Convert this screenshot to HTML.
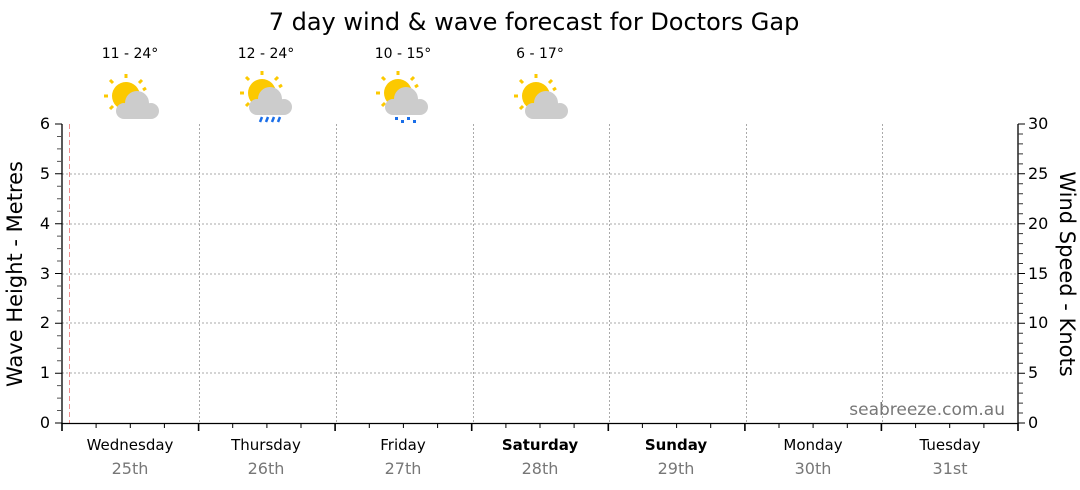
<!DOCTYPE html><html><head><style>body{margin:0;background:#fff}svg{display:block;font-family:"DejaVu Sans","Liberation Sans",sans-serif}</style></head><body>
<svg width="1080" height="490" xmlns="http://www.w3.org/2000/svg">
<text x="534" y="30" font-size="24" text-anchor="middle">7 day wind &amp; wave forecast for Doctors Gap</text>
<g font-size="14" text-anchor="middle">
<text x="130" y="58">11 - 24°</text><text x="266" y="58">12 - 24°</text><text x="403" y="58">10 - 15°</text><text x="540" y="58">6 - 17°</text></g>
<defs>
<g id="sun"><circle cx="0" cy="0" r="14" fill="#fcc900"/><g stroke="#fcc900" stroke-width="3"><line x1="0" y1="-22" x2="0" y2="-18"/><line x1="-16" y1="-16" x2="-13" y2="-13"/><line x1="16" y1="-16" x2="13" y2="-13"/><line x1="-22" y1="0" x2="-18" y2="0"/><line x1="-16" y1="13" x2="-13" y2="10"/><line x1="20" y1="-8" x2="17" y2="-6"/></g></g>
<g id="cloud" fill="#cccccc"><circle cx="0" cy="0" r="12"/><circle cx="-13" cy="8" r="8"/><circle cx="14" cy="8" r="8"/><rect x="-13" y="4" width="27" height="12"/></g>
</defs>
<use href="#sun" x="126" y="96"/><use href="#cloud" x="137" y="103"/>
<use href="#sun" x="262" y="93"/><use href="#cloud" x="270" y="99"/>
<g stroke="#1a6ee8" stroke-width="2.5"><line x1="260" y1="122" x2="262" y2="117"/><line x1="266" y1="122" x2="268" y2="117"/><line x1="272" y1="122" x2="274" y2="117"/><line x1="278" y1="122" x2="280" y2="117"/></g>
<use href="#sun" x="398" y="93"/><use href="#cloud" x="406" y="99"/>
<g fill="#1a6ee8"><rect x="395" y="117" width="3" height="3"/><rect x="401" y="120" width="3" height="3"/><rect x="407" y="117" width="3" height="3"/><rect x="413" y="120" width="3" height="3"/></g>
<use href="#sun" x="536" y="96"/><use href="#cloud" x="546" y="103"/>
<g stroke="#aaa" stroke-dasharray="2,2" stroke-width="1">
<line x1="62" y1="174" x2="1018" y2="174"/><line x1="62" y1="224" x2="1018" y2="224"/><line x1="62" y1="274" x2="1018" y2="274"/><line x1="62" y1="323" x2="1018" y2="323"/><line x1="62" y1="373" x2="1018" y2="373"/>
<line x1="199.5" y1="124" x2="199.5" y2="423"/><line x1="336.5" y1="124" x2="336.5" y2="423"/><line x1="473.5" y1="124" x2="473.5" y2="423"/><line x1="609.5" y1="124" x2="609.5" y2="423"/><line x1="746.5" y1="124" x2="746.5" y2="423"/><line x1="882.5" y1="124" x2="882.5" y2="423"/>
</g>
<line x1="69.5" y1="124" x2="69.5" y2="423" stroke="#f09090" stroke-dasharray="5,3"/>
<text x="1005" y="415" font-size="17" fill="#777" text-anchor="end">seabreeze.com.au</text>
<g stroke="#000" stroke-width="1.3">
<line x1="62" y1="124" x2="62" y2="424"/><line x1="1018" y1="124" x2="1018" y2="424"/><line x1="62" y1="423.5" x2="1018" y2="423.5"/>
</g>
<path stroke="#000" fill="none" d="M55 124H62M55 173.8H62M55 223.7H62M55 273.5H62M55 323.3H62M55 373.2H62M55 423H62"/>
<path stroke="#555" fill="none" d="M57 136.5H62M57 148.9H62M57 161.4H62M57 186.3H62M57 198.8H62M57 211.2H62M57 236.1H62M57 248.6H62M57 261H62M57 286H62M57 298.4H62M57 310.9H62M57 335.8H62M57 348.3H62M57 360.7H62M57 385.6H62M57 398.1H62M57 410.5H62"/>
<path stroke="#000" fill="none" d="M1018 124H1025M1018 173.8H1025M1018 223.7H1025M1018 273.5H1025M1018 323.3H1025M1018 373.2H1025M1018 423H1025"/>
<path stroke="#333" fill="none" d="M1018 134H1023M1018 143.9H1023M1018 153.9H1023M1018 163.9H1023M1018 183.8H1023M1018 193.8H1023M1018 203.7H1023M1018 213.7H1023M1018 233.6H1023M1018 243.6H1023M1018 253.6H1023M1018 263.5H1023M1018 283.5H1023M1018 293.4H1023M1018 303.4H1023M1018 313.4H1023M1018 333.3H1023M1018 343.3H1023M1018 353.2H1023M1018 363.2H1023M1018 383.1H1023M1018 393.1H1023M1018 403.1H1023M1018 413H1023"/>
<path stroke="#000" stroke-width="1.6" fill="none" d="M62 423V431M198.6 423V431M335.1 423V431M471.7 423V431M608.3 423V431M744.9 423V431M881.4 423V431M1018 423V431"/>
<path stroke="#000" fill="none" d="M96.1 423V428M130.3 423V428M164.4 423V428M232.7 423V428M266.9 423V428M301 423V428M369.3 423V428M403.4 423V428M437.6 423V428M505.9 423V428M540 423V428M574.1 423V428M642.4 423V428M676.6 423V428M710.7 423V428M779 423V428M813.1 423V428M847.3 423V428M915.6 423V428M949.7 423V428M983.9 423V428"/>
<g font-size="16" text-anchor="end"><text x="50" y="129">6</text><text x="50" y="179">5</text><text x="50" y="229">4</text><text x="50" y="279">3</text><text x="50" y="328">2</text><text x="50" y="378">1</text><text x="50" y="428">0</text></g>
<g font-size="16"><text x="1028" y="129">30</text><text x="1028" y="179">25</text><text x="1028" y="229">20</text><text x="1028" y="279">15</text><text x="1028" y="328">10</text><text x="1028" y="378">5</text><text x="1028" y="428">0</text></g>
<text transform="translate(22,274) rotate(-90)" font-size="21" text-anchor="middle">Wave Height - Metres</text>
<text transform="translate(1060,274) rotate(90)" font-size="21" text-anchor="middle">Wind Speed - Knots</text>
<g font-size="15" text-anchor="middle">
<text x="130" y="450">Wednesday</text><text x="266" y="450">Thursday</text><text x="403" y="450">Friday</text><text x="540" y="450" font-weight="bold">Saturday</text><text x="676" y="450" font-weight="bold">Sunday</text><text x="813" y="450">Monday</text><text x="950" y="450">Tuesday</text></g>
<g font-size="16" text-anchor="middle" fill="#777">
<text x="130" y="474">25th</text><text x="266" y="474">26th</text><text x="403" y="474">27th</text><text x="540" y="474">28th</text><text x="676" y="474">29th</text><text x="813" y="474">30th</text><text x="950" y="474">31st</text></g>
</svg></body></html>
